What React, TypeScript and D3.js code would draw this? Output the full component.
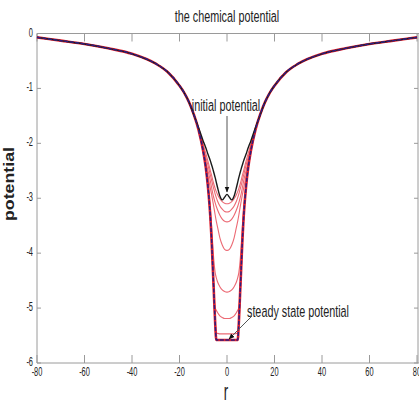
import React from "react";
import * as d3 from "d3";

// Radial positions (r >= 0); curves are symmetric about r = 0 and mirrored when drawn
const innerR = [0, 1, 2, 3, 4, 4.5, 5, 5.5, 6, 6.5, 7, 8, 9, 10, 12, 14];
const outerR = [16, 18, 20, 25, 30, 40, 50, 60, 70, 80];
// Shared tail of every curve far from the well
const outerV = [-1.25, -1.08, -0.95, -0.7, -0.55, -0.37, -0.27, -0.19, -0.13, -0.07];

// Initial potential (black) near the centre
const initialV = [-2.93, -2.98, -3.03, -2.96, -2.8, -2.71, -2.62, -2.54, -2.46, -2.39, -2.32, -2.2, -2.07, -1.96, -1.71, -1.48];
// Intermediate time steps (red)
const step1V = [-3.1, -3.09, -3.06, -3.01, -2.93, -2.88, -2.82, -2.75, -2.67, -2.58, -2.5, -2.33, -2.17, -2.02, -1.73, -1.48];
const step2V = [-3.25, -3.24, -3.2, -3.14, -3.05, -2.99, -2.92, -2.84, -2.76, -2.67, -2.58, -2.4, -2.24, -2.07, -1.74, -1.48];
const step3V = [-3.43, -3.42, -3.38, -3.31, -3.21, -3.15, -3.08, -3.0, -2.91, -2.8, -2.69, -2.5, -2.32, -2.12, -1.75, -1.48];
const step4V = [-3.95, -3.93, -3.85, -3.72, -3.52, -3.42, -3.3, -3.17, -3.05, -2.93, -2.82, -2.6, -2.38, -2.15, -1.75, -1.47];
const step5V = [-4.71, -4.7, -4.67, -4.61, -4.52, -4.45, -4.35, -4.15, -3.85, -3.5, -3.2, -2.75, -2.4, -2.14, -1.75, -1.47];
const step6V = [-5.19, -5.19, -5.17, -5.14, -5.08, -5.04, -4.98, -4.7, -4.22, -3.73, -3.33, -2.79, -2.42, -2.15, -1.75, -1.47];
const step7V = [-5.47, -5.47, -5.47, -5.47, -5.46, -5.46, -5.24, -4.75, -4.25, -3.75, -3.35, -2.8, -2.42, -2.15, -1.75, -1.47];
// Steady state potential
const steadyV = [-5.58, -5.58, -5.58, -5.58, -5.58, -5.58, -5.25, -4.75, -4.25, -3.75, -3.35, -2.8, -2.42, -2.15, -1.75, -1.47];

const xTicks = [-80, -60, -40, -20, 0, 20, 40, 60, 80];
const yTicks = [0, -1, -2, -3, -4, -5, -6];

const W = 419;
const H = 404;
const x = d3.scaleLinear().domain([-80, 80]).range([37, 417]);
const y = d3.scaleLinear().domain([-6, 0]).range([363, 33.5]);

type Pt = [number, number];

function mirrored(inner: number[]): Pt[] {
  const rs = [...innerR, ...outerR];
  const vs = [...inner, ...outerV];
  const right: Pt[] = rs.map((r, i) => [r, vs[i]]);
  const left: Pt[] = right.slice(1).map(([r, v]) => [-r, v] as Pt).reverse();
  return [...left, ...right];
}

const line = d3
  .line<Pt>()
  .x((d) => x(d[0]))
  .y((d) => y(d[1]))
  .curve(d3.curveMonotoneX);

const sans = "'Liberation Sans', Arial, sans-serif";

// Condensed label: drawn at the origin and squeezed horizontally
function Narrow(props: {
  x: number;
  y: number;
  size: number;
  sx?: number;
  sy?: number;
  anchor?: string;
  children: React.ReactNode;
}) {
  const { x: px, y: py, size, sx = 0.72, sy = 1.05, anchor = "middle" } = props;
  return (
    <text
      transform={`translate(${px},${py}) scale(${sx},${sy})`}
      textAnchor={anchor as any}
      fontFamily={sans}
      fontSize={size}
      fill="#222"
    >
      {props.children}
    </text>
  );
}

export default function App() {
  const steps = [step1V, step2V, step3V, step4V, step5V, step6V, step7V];
  return (
    <svg
      width={W}
      height={H}
      style={{ position: "fixed", left: 0, top: 0, background: "#fff" }}
    >
      <defs>
        <marker id="head" viewBox="0 0 10 10" refX="9" refY="5" markerWidth="6" markerHeight="6" orient="auto">
          <path d="M0,1 L10,5 L0,9 z" fill="#111" />
        </marker>
      </defs>

      {/* frame */}
      <g stroke="#9a9a9a" strokeWidth={1} fill="none">
        <line x1={x(-80)} x2={x(-80)} y1={y(0)} y2={y(-6)} />
        <line x1={x(-80)} x2={W} y1={y(0)} y2={y(0)} />
        <line x1={x(-80)} x2={W} y1={y(-6)} y2={y(-6)} />
        <line x1={418} x2={418} y1={y(0)} y2={y(-6)} />
        {xTicks.map((t) => (
          <g key={"xt" + t}>
            <line x1={x(t)} x2={x(t)} y1={y(-6)} y2={y(-6) - 8} />
            <line x1={x(t)} x2={x(t)} y1={y(0)} y2={y(0) + 8} />
          </g>
        ))}
        {yTicks.map((t) => (
          <g key={"yt" + t}>
            <line x1={x(-80)} x2={x(-80) + 4} y1={y(t)} y2={y(t)} />
            <line x1={418} x2={414} y1={y(t)} y2={y(t)} />
          </g>
        ))}
      </g>

      {/* tick labels */}
      {xTicks.map((t) => (
        <Narrow key={"xl" + t} x={x(t)} y={y(-6) + 13} size={12} sx={0.62} sy={1.1}>
          {t}
        </Narrow>
      ))}
      {yTicks.map((t) => (
        <Narrow key={"yl" + t} x={x(-80) - 4} y={y(t) + 3} size={12} sx={0.62} sy={1.1} anchor="end">
          {t}
        </Narrow>
      ))}

      {/* intermediate steps */}
      {steps.map((s, i) => (
        <path key={"s" + i} d={line(mirrored(s)) || ""} fill="none" stroke="#ec6a74" strokeWidth={1.1} />
      ))}

      {/* steady state, red underlay */}
      <path d={line(mirrored(steadyV)) || ""} fill="none" stroke="#e3202c" strokeWidth={2.6} />
      {/* initial potential */}
      <path d={line(mirrored(initialV)) || ""} fill="none" stroke="#1a1a1a" strokeWidth={1.4} />
      {/* steady state, dashed overlay */}
      <path
        d={line(mirrored(steadyV)) || ""}
        fill="none"
        stroke="#2c1f80"
        strokeWidth={1.5}
        strokeDasharray="4,1.5"
      />

      {/* annotations */}
      <Narrow x={226} y={111} size={15}>initial potential</Narrow>
      <Narrow x={298} y={317} size={15}>steady state potential</Narrow>
      <line x1={227} y1={116} x2={227} y2={192} stroke="#555" strokeWidth={1} markerEnd="url(#head)" />
      <line x1={252} y1={316} x2={229} y2={339} stroke="#555" strokeWidth={1} markerEnd="url(#head)" />

      {/* titles */}
      <Narrow x={227} y={22} size={15}>the chemical potential</Narrow>
      <Narrow x={226} y={400} size={19} sx={0.7} sy={1.25}>r</Narrow>
      <text
        transform={`translate(14,184) rotate(-90)`}
        textAnchor="middle"
        fontFamily={sans}
        fontWeight="bold"
        fontSize={15}
        textLength={74}
        lengthAdjust="spacingAndGlyphs"
        fill="#222"
      >
        potential
      </text>
    </svg>
  );
}
